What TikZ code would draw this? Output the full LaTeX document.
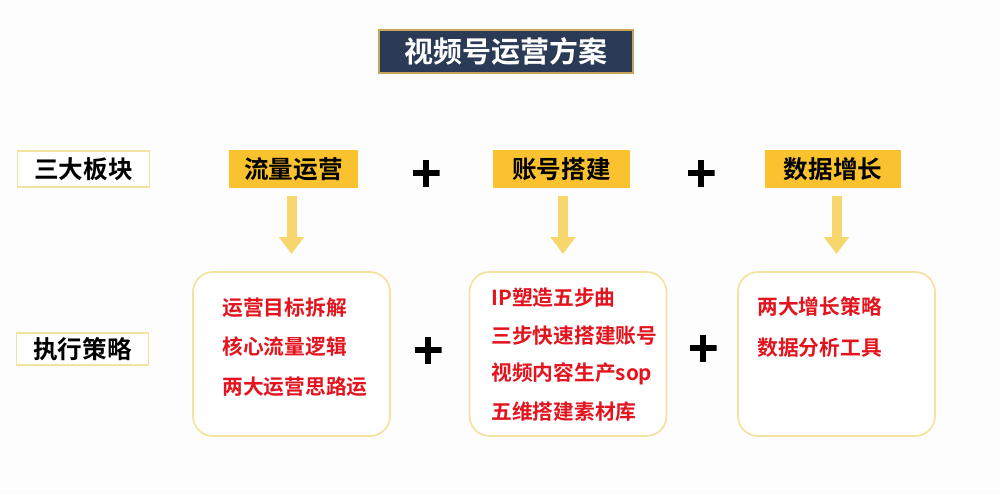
\documentclass[tikz,border=0pt]{standalone}
\usepackage{fontspec}
\setmainfont{Noto Sans CJK SC}[BoldFont={* Bold}]
\newfontfamily\cjkb{Noto Sans CJK SC Bold}
\usetikzlibrary{arrows.meta,calc}
\definecolor{navy}{HTML}{2C3B55}
\definecolor{tan}{HTML}{C8A45A}
\definecolor{gold}{HTML}{F9C22E}
\definecolor{lightgold}{HTML}{F8D66E}
\definecolor{paleborder}{HTML}{F4E3A0}
\definecolor{redtext}{HTML}{E3141E}
\definecolor{bg}{HTML}{FDFDFD}
\tikzset{
  titlebox/.style={fill=navy, draw=tan, line width=0.8pt, text=white, font=\cjkb\fontsize{16.5}{18}\selectfont, minimum width=254*0.02cm, minimum height=43*0.02cm, inner sep=0pt},
  labelbox/.style={fill=white, draw=paleborder, line width=0.8pt, font=\cjkb\fontsize{14}{16}\selectfont, minimum width=132*0.02cm, minimum height=36*0.02cm, inner sep=0pt},
  headbox/.style={fill=gold, font=\cjkb\fontsize{14}{16}\selectfont, minimum height=38*0.02cm, inner sep=0pt},
  planbox/.style={fill=white, draw=paleborder, line width=1pt, rounded corners=0.4cm, minimum width=197*0.02cm, minimum height=164*0.02cm, inner sep=0pt},
  redline/.style={text=redtext, font=\cjkb\fontsize{11.8}{14}\selectfont, anchor=west, inner sep=0pt},
  fatarrow/.style={draw=lightgold, line width=10*0.02cm, -{Triangle[width=24*0.02cm, length=17*0.02cm]}, shorten <=8*0.02cm, shorten >=17*0.02cm},
  plussign/.style={minimum size=27*0.02cm, inner sep=0pt, path picture={
    \draw[line width=6*0.02cm, black] (path picture bounding box.north) -- (path picture bounding box.south);
    \draw[line width=6*0.02cm, black] (path picture bounding box.west) -- (path picture bounding box.east);}}
}
\begin{document}
\begin{tikzpicture}[x=0.02cm, y=-0.02cm]
\fill[bg] (0,0) rectangle (1000,494);
\useasboundingbox (0,0) rectangle (1000,494);
\node[titlebox] (title) at (506,51.5) {视频号运营方案};
\node[labelbox] (sdbk) at (83.5,169) {三大板块};
\node[labelbox, minimum height=32*0.02cm] (zxcl) at (82.5,349) {执行策略};
\node[headbox, minimum width=129*0.02cm] (h1) at (293.5,169) {流量运营};
\node[headbox, minimum width=137*0.02cm] (h2) at (561.5,169) {账号搭建};
\node[headbox, minimum width=136*0.02cm] (h3) at (833,169) {数据增长};
\node[plussign] (p1) at (426,173) {};
\node[plussign] (p2) at (701,173) {};
\node[planbox] (b1) at (291.5,354) {};
\node[planbox] (b2) at (568,354) {};
\node[planbox] (b3) at (836.5,354) {};
\node[plussign] (p3) at (428,350) {};
\node[plussign] (p4) at (703,348) {};
\coordinate (a2) at ($(b2.north)+(-5,0)$);
\draw[fatarrow] (h1.south -| b1.north) -- (b1.north);
\draw[fatarrow] (h2.south -| a2) -- (a2);
\draw[fatarrow] (h3.south -| b3.north) -- (b3.north);
\node[redline] (t11) at (222,308) {运营目标拆解};
\node[redline] (t12) at (222,347) {核心流量逻辑};
\node[redline] (t13) at (222,387) {两大运营思路运};
\node[redline] (t21) at (491,298) {IP塑造五步曲};
\node[redline] (t22) at (491,336) {三步快速搭建账号};
\node[redline] (t23) at (491,374) {视频内容生产sop};
\node[redline] (t24) at (491,412) {五维搭建素材库};
\node[redline] (t31) at (757,307) {两大增长策略};
\node[redline] (t32) at (757,348) {数据分析工具};
\end{tikzpicture}
\end{document}
